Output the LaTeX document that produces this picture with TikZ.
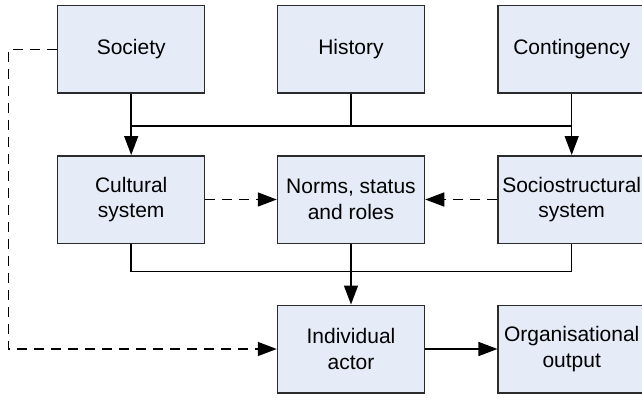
\documentclass[tikz,border=0pt]{standalone}
\usepackage{fontspec}
\setmainfont{Liberation Sans}
\usetikzlibrary{arrows.meta}
\definecolor{boxfill}{HTML}{E5ECF7}
\definecolor{boxline}{HTML}{2B2B2B}
\begin{document}
\begin{tikzpicture}[x=1pt,y=-1pt,
  box/.style={draw=boxline,fill=boxfill,line width=1.5pt,minimum width=147pt,minimum height=87.5pt,inner sep=0pt,align=center,font=\fontsize{21}{25.5}\selectfont},
  conn/.style={line width=1.5pt,draw=black},
  tip/.style={-{Triangle[length=19pt,width=14pt]}},
  arr/.style={conn,tip},
  dsh/.style={conn,dash pattern=on 10pt off 7pt}]
\path[use as bounding box,clip] (0,0) rectangle (642,399);
\node[box] (soc) at (131.2,49.4) {Society};
\node[box] (his) at (351,49.4) {History};
\node[box] (con) at (571.7,49.4) {Contingency};
\node[box] (cul) at (131.2,199.5) {Cultural\\system};
\node[box] (nor) at (351,199.5) {Norms, status\\and roles};
\node[box] (soc2) at (571.7,199.5) {Sociostructural\\system};
\node[box] (ind) at (351,349) {Individual\\actor};
\node[box] (org) at (571.7,349) {Organisational\\output};
\coordinate (b1l) at (131.2,126);
\coordinate (b1r) at (571.7,126);
\coordinate (b1m) at (351,126);
\coordinate (b2l) at (131.2,271.7);
\coordinate (b2r) at (571.7,271.7);
\coordinate (dl1) at (8.3,49.4);
\coordinate (dl2) at (8.3,349);
\draw[arr] (soc.south) -- (cul.north);
\draw[arr] (con.south) -- (soc2.north);
\draw[conn] (his.south) -- (b1m);
\draw[conn] (b1l) -- (b1r);
\draw[conn] (cul.south) -- (b2l) -- (b2r) -- (soc2.south);
\draw[arr] (nor.south) -- (ind.north);
\draw[dsh,tip] (cul.east) -- (nor.west);
\draw[dsh,tip] (soc2.west) -- (nor.east);
\draw[dsh,tip] (soc.west) -- (dl1) -- (dl2) -- (ind.west);
\draw[arr] (ind.east) -- (org.west);
\end{tikzpicture}
\end{document}
